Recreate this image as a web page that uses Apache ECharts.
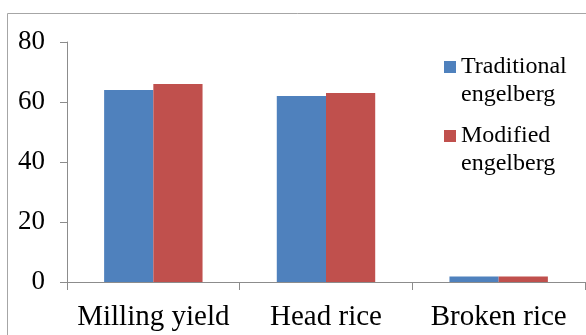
<!DOCTYPE html>
<html>
<head>
<meta charset="utf-8">
<script src="https://cdn.jsdelivr.net/npm/echarts@6/dist/echarts.min.js"></script>
<style>
  html, body { margin: 0; padding: 0; background: #fff; }
  #container { width: 586px; height: 335px; }
</style>
</head>
<body>
<div id="container"></div>
<script>
const categories = ['Milling yield', 'Head rice', 'Broken rice'];
const seriesNames = ['Traditional engelberg', 'Modified engelberg'];
const traditional = [64, 62, 1.8];
const modified = [66, 63, 1.8];
const yTicks = { min: 0, max: 80, interval: 20 };

const chart = echarts.init(document.getElementById('container'));
const font = '"Liberation Serif", "DejaVu Serif", serif';
const axisGray = '#8c8c8c';

const option = {
  animation: false,
  textStyle: { fontFamily: font },
  graphic: [
    {
      type: 'rect',
      shape: { x: 7.5, y: 13.5, width: 700, height: 400 },
      style: { fill: 'none', stroke: '#a6a6a6', lineWidth: 1 },
      silent: true,
    },
  ],
  grid: { left: 67, top: 42, right: 1, bottom: 53, containLabel: false },
  legend: {
    orient: 'vertical',
    left: 444,
    top: 25,
    padding: 0,
    itemWidth: 12,
    itemHeight: 12,
    itemGap: -15,
    icon: 'rect',
    // empty first line keeps the square level with the first text line
    formatter: (name) => '\n' + name.replace(' ', '\n'),
    textStyle: {
      fontFamily: font,
      fontSize: 24,
      lineHeight: 28,
      color: '#000',
    },
    data: seriesNames,
  },
  xAxis: {
    type: 'category',
    data: categories,
    axisLine: { lineStyle: { color: axisGray, width: 1 } },
    axisTick: { show: true, length: 8, alignWithLabel: false, lineStyle: { color: axisGray } },
    axisLabel: { fontFamily: font, fontSize: 29, color: '#000', margin: 21, interval: 0 },
  },
  yAxis: {
    type: 'value',
    min: yTicks.min,
    max: yTicks.max,
    interval: yTicks.interval,
    axisLine: { show: true, lineStyle: { color: axisGray, width: 1 } },
    axisTick: { show: true, length: 7, lineStyle: { color: axisGray } },
    splitLine: { show: false },
    axisLabel: { fontFamily: font, fontSize: 27, color: '#000', margin: 22 },
  },
  series: [
    {
      name: seriesNames[0],
      type: 'bar',
      data: traditional,
      barGap: '0%',
      barCategoryGap: '43%',
      itemStyle: { color: '#4f81bd' },
    },
    {
      name: seriesNames[1],
      type: 'bar',
      data: modified,
      itemStyle: { color: '#c0504d' },
    },
  ],
};

chart.setOption(option);
</script>
</body>
</html>
